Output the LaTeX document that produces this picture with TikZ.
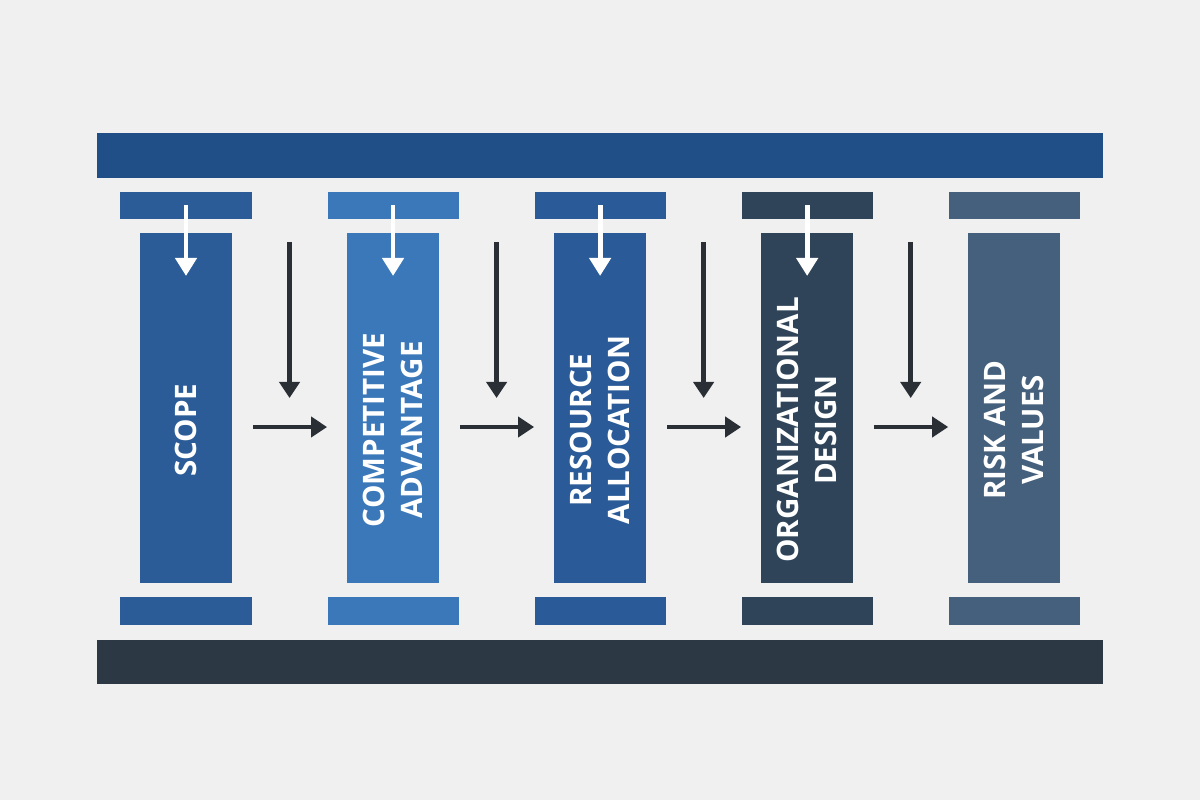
\documentclass[tikz,border=0pt]{standalone}
\usepackage{fontspec}
\setmainfont{Open Sans}
\usepackage{xcolor}
\usetikzlibrary{arrows.meta,positioning,calc}

\definecolor{bgcol}{HTML}{F0F0F0}
\definecolor{roofcol}{HTML}{1F4F86}
\definecolor{floorcol}{HTML}{2C3944}
\definecolor{colA}{HTML}{2B5C97}
\definecolor{colB}{HTML}{3B78B9}
\definecolor{colC}{HTML}{2A5B98}
\definecolor{colD}{HTML}{2F4459}
\definecolor{colE}{HTML}{45607C}
\definecolor{arrowcol}{HTML}{2A2F36}

\begin{document}
\begin{tikzpicture}[
    x=0.025cm, y=-0.025cm,
    node distance=0.35cm,
    shaft/.style={rectangle, minimum width=2.3cm, minimum height=8.75cm, inner sep=0pt, outer sep=0pt},
    capital/.style={rectangle, minimum width=3.275cm, minimum height=0.675cm, inner sep=0pt, outer sep=0pt},
    plinth/.style={rectangle, minimum width=3.275cm, minimum height=0.7cm, inner sep=0pt, outer sep=0pt},
    beam/.style={rectangle, minimum width=25.125cm, minimum height=1.125cm, inner sep=0pt, outer sep=0pt},
    caption/.style={rotate=90, text=white, align=center, inner sep=0pt, font=\bfseries\fontsize{21}{27}\selectfont},
    drop/.style={-{Triangle[width=0.525cm,length=0.45cm]}, line width=0.12cm, white},
    flow/.style={-{Triangle[width=0.5cm,length=0.4cm]}, line width=0.12cm, arrowcol}
]
    % Fondo
    \fill[bgcol] (0,0) rectangle (1200,800);

    % Columnas
    \node[shaft, fill=colA] (scope) at (186,408) {};
    \node[shaft, fill=colB, right=2.875cm of scope] (advantage) {};
    \node[shaft, fill=colC, right=2.875cm of advantage] (resource) {};
    \node[shaft, fill=colD, right=2.875cm of resource] (design) {};
    \node[shaft, fill=colE, right=2.875cm of design] (risk) {};

    % Capiteles
    \node[capital, fill=colA, above=of scope] (cap1) {};
    \node[capital, fill=colB, above=of advantage] (cap2) {};
    \node[capital, fill=colC, above=of resource] (cap3) {};
    \node[capital, fill=colD, above=of design] (cap4) {};
    \node[capital, fill=colE, above=of risk] (cap5) {};

    % Bases
    \node[plinth, fill=colA, below=of scope] (base1) {};
    \node[plinth, fill=colB, below=of advantage] (base2) {};
    \node[plinth, fill=colC, below=of resource] (base3) {};
    \node[plinth, fill=colD, below=of design] (base4) {};
    \node[plinth, fill=colE, below=of risk] (base5) {};

    % Techo y suelo
    \node[beam, fill=roofcol, above=of cap3] (roof) {};
    \node[beam, fill=floorcol, minimum height=1.1cm, below=0.375cm of base3] (floor) {};

    % Textos
    \node[caption] (scopeT) at ([yshift=-0.55cm]scope.center) {SCOPE};
    \node[caption] (advantageT) at ([yshift=-0.55cm]advantage.center) {COMPETITIVE\\ADVANTAGE};
    \node[caption] (resourceT) at ([yshift=-0.55cm]resource.center) {RESOURCE\\ALLOCATION};
    \node[caption] (designT) at ([yshift=-0.55cm]design.center) {ORGANIZATIONAL\\DESIGN};
    \node[caption] (riskT) at ([yshift=-0.55cm]risk.center) {RISK AND\\VALUES};

    % Flechas blancas
    \draw[drop] (cap1.center) -- ([yshift=-1.075cm]scope.north);
    \draw[drop] (cap2.center) -- ([yshift=-1.075cm]advantage.north);
    \draw[drop] (cap3.center) -- ([yshift=-1.075cm]resource.north);
    \draw[drop] (cap4.center) -- ([yshift=-1.075cm]design.north);

    % Huecos
    \coordinate (gap1) at ($(scope.north east)!0.5!(advantage.north west)$);
    \coordinate (gap2) at ($(advantage.north east)!0.5!(resource.north west)$);
    \coordinate (gap3) at ($(resource.north east)!0.5!(design.north west)$);
    \coordinate (gap4) at ($(design.north east)!0.5!(risk.north west)$);

    % Flechas
    \draw[flow] ([yshift=-0.225cm]gap1) -- ([yshift=-4.125cm]gap1);
    \draw[flow] ([yshift=-0.225cm]gap2) -- ([yshift=-4.125cm]gap2);
    \draw[flow] ([yshift=-0.225cm]gap3) -- ([yshift=-4.125cm]gap3);
    \draw[flow] ([yshift=-0.225cm]gap4) -- ([yshift=-4.125cm]gap4);
    \draw[flow] ([xshift=0.525cm,yshift=-0.475cm]scope.east) -- ([xshift=-0.5cm,yshift=-0.475cm]advantage.west);
    \draw[flow] ([xshift=0.525cm,yshift=-0.475cm]advantage.east) -- ([xshift=-0.5cm,yshift=-0.475cm]resource.west);
    \draw[flow] ([xshift=0.525cm,yshift=-0.475cm]resource.east) -- ([xshift=-0.5cm,yshift=-0.475cm]design.west);
    \draw[flow] ([xshift=0.525cm,yshift=-0.475cm]design.east) -- ([xshift=-0.5cm,yshift=-0.475cm]risk.west);
\end{tikzpicture}
\end{document}
